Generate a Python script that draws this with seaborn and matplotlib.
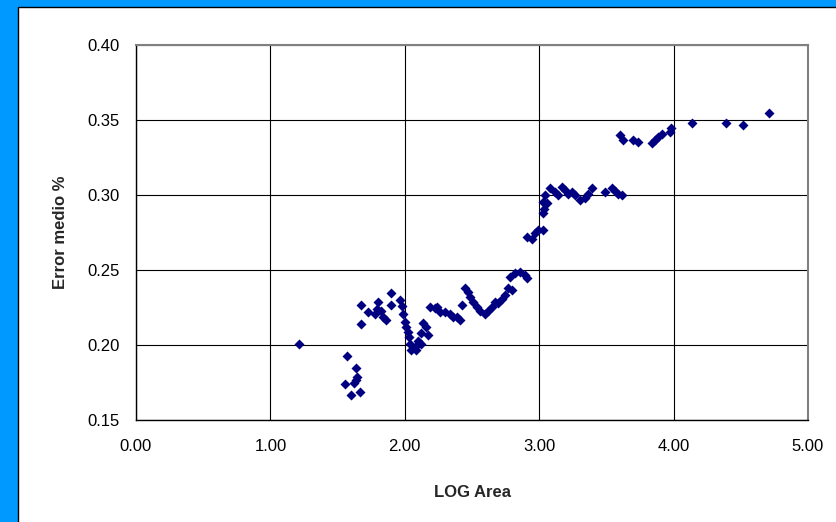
import matplotlib
matplotlib.use("Agg")
import matplotlib.pyplot as plt
from matplotlib.patches import Rectangle
import seaborn as sns
import pandas as pd

# LOG of area vs. mean error
log_area = [
    1.21, 1.57, 1.555, 1.597, 1.625, 1.637, 1.647, 1.637, 1.664,
    1.674, 1.674, 1.724, 1.778, 1.79, 1.80, 1.823, 1.84, 1.858, 1.897, 1.897,
    1.964, 1.977, 1.989, 1.999, 2.009, 2.026, 2.029, 2.036, 2.044, 2.086,
    2.073, 2.098, 2.123, 2.123, 2.135, 2.16, 2.173, 2.185, 2.222, 2.237,
    2.262, 2.297, 2.336, 2.361, 2.386, 2.411, 2.423, 2.448, 2.473, 2.485,
    2.51, 2.535, 2.56, 2.597, 2.621, 2.647, 2.671, 2.696, 2.721, 2.746,
    2.77, 2.795, 2.783, 2.82, 2.857, 2.894, 2.907, 2.907, 2.944, 2.969,
    2.994, 3.031, 3.026, 3.036, 3.056, 3.031, 3.043, 3.08, 3.118, 3.143,
    3.168, 3.192, 3.217, 3.242, 3.266, 3.304, 3.341, 3.365, 3.39, 3.49,
    3.54, 3.564, 3.589, 3.614, 3.601, 3.626, 3.70, 3.737, 3.837, 3.862,
    3.886, 3.911, 3.973, 3.978, 4.134, 4.388, 4.519, 4.712,
]
error_medio = [
    0.201, 0.193, 0.174, 0.167, 0.175, 0.177, 0.179, 0.185, 0.169,
    0.227, 0.214, 0.222, 0.221, 0.224, 0.229, 0.223, 0.219, 0.217, 0.2345, 0.227,
    0.230, 0.226, 0.221, 0.2155, 0.212, 0.209, 0.2055, 0.201, 0.197, 0.197,
    0.199, 0.203, 0.201, 0.208, 0.2145, 0.212, 0.207, 0.2255, 0.2245, 0.2255,
    0.222, 0.222, 0.221, 0.219, 0.219, 0.217, 0.227, 0.238, 0.2355, 0.232,
    0.229, 0.2255, 0.223, 0.221, 0.223, 0.2255, 0.229, 0.228, 0.231, 0.2335,
    0.238, 0.2365, 0.2455, 0.248, 0.249, 0.2467, 0.2445, 0.272, 0.271, 0.2745,
    0.277, 0.277, 0.288, 0.291, 0.2945, 0.2955, 0.300, 0.3045, 0.302, 0.300,
    0.3055, 0.3033, 0.301, 0.302, 0.300, 0.297, 0.298, 0.301, 0.3045, 0.302,
    0.3045, 0.303, 0.301, 0.300, 0.340, 0.3367, 0.337, 0.3355, 0.335, 0.337,
    0.339, 0.341, 0.342, 0.345, 0.348, 0.348, 0.347, 0.3545,
]

x_ticks = [0.0, 1.0, 2.0, 3.0, 4.0, 5.0]
y_ticks = [0.15, 0.20, 0.25, 0.30, 0.35, 0.40]

df = pd.DataFrame({"LOG Area": log_area, "Error medio %": error_medio})

sns.set_style("white")
plt.rcParams["font.family"] = ["Liberation Sans", "DejaVu Sans"]

W, H = 836, 522
fig = plt.figure(figsize=(W / 100, H / 100), dpi=100, facecolor="#0099FF")

# white panel framed in black on the blue background
panel = Rectangle((18 / W, -0.01), 1 - 18 / W + 0.01, 1 - 7 / H + 0.01,
                  transform=fig.transFigure, facecolor="white",
                  edgecolor="black", linewidth=1.0, zorder=-5)
fig.patches.append(panel)

ax = fig.add_axes([136 / W, 1 - 420 / H, 672 / W, 375 / H])
ax.set_zorder(2)
ax.set_facecolor("white")

sns.scatterplot(data=df, x="LOG Area", y="Error medio %", ax=ax,
                marker="D", color="#000080", s=26, linewidth=0, zorder=3)

ax.set_xlim(0, 5)
ax.set_ylim(0.15, 0.40)
ax.set_xticks(x_ticks)
ax.set_yticks(y_ticks)
ax.set_xticklabels([f"{v:.2f}" for v in x_ticks])
ax.set_yticklabels([f"{v:.2f}" for v in y_ticks])

ax.grid(True, color="black", linewidth=0.8, zorder=1)
ax.set_axisbelow(True)

for side in ("left", "bottom"):
    ax.spines[side].set_color("black")
    ax.spines[side].set_linewidth(1.0)
for side in ("top", "right"):
    ax.spines[side].set_color("#808080")
    ax.spines[side].set_linewidth(1.5)

ax.tick_params(axis="both", direction="out", length=5, width=1.0,
               color="black", labelsize=12, labelcolor="black")
ax.tick_params(axis="y", pad=7)
ax.tick_params(axis="x", pad=9)

ax.set_xlabel("LOG Area", fontsize=12, fontweight="bold", labelpad=22)
ax.set_ylabel("Error medio %", fontsize=12, fontweight="bold", labelpad=14)

fig.savefig("out.png", dpi=100, facecolor=fig.get_facecolor())
